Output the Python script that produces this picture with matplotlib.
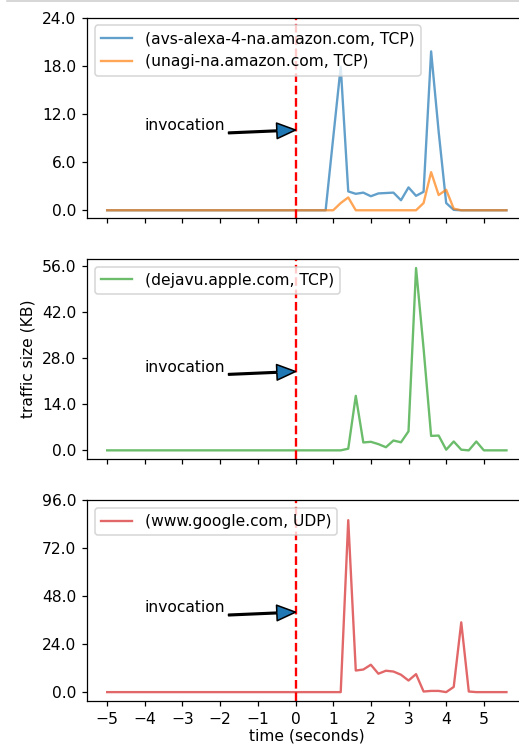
import numpy as np
import matplotlib
matplotlib.use('Agg')
import matplotlib.pyplot as plt
from matplotlib.ticker import FormatStrFormatter
from matplotlib.lines import Line2D

# one sample every 0.2 s, from -5 s to 5.6 s
t = np.round(np.arange(-5.0, 5.7, 0.2), 1)

alexa = [0, 0, 0, 0, 0, 0, 0, 0, 0, 0,
         0, 0, 0, 0, 0, 0, 0, 0, 0, 0,
         0, 0, 0, 0, 0, 0, 0, 0, 0, 0,
         9.0, 17.9, 2.35, 2.05, 2.2, 1.75, 2.1, 2.15, 2.2, 1.25,
         2.85, 1.8, 2.3, 19.8, 9.8, 0.9, 0.05, 0, 0, 0,
         0, 0, 0, 0]
unagi = [0, 0, 0, 0, 0, 0, 0, 0, 0, 0,
         0, 0, 0, 0, 0, 0, 0, 0, 0, 0,
         0, 0, 0, 0, 0, 0, 0, 0, 0, 0,
         0, 0.9, 1.6, 0, 0, 0, 0, 0, 0, 0,
         0, 0, 0.9, 4.75, 1.9, 2.55, 0.2, 0, 0, 0,
         0, 0, 0, 0]
dejavu = [0, 0, 0, 0, 0, 0, 0, 0, 0, 0,
          0, 0, 0, 0, 0, 0, 0, 0, 0, 0,
          0, 0, 0, 0, 0, 0, 0, 0, 0, 0,
          0, 0, 0.5, 16.6, 2.4, 2.6, 1.9, 0.95, 3.0, 2.45,
          5.8, 55.5, 31.0, 4.4, 4.5, 0.2, 2.7, 0.2, 0, 2.7,
          0, 0, 0, 0]
google = [0, 0, 0, 0, 0, 0, 0, 0, 0, 0,
          0, 0, 0, 0, 0, 0, 0, 0, 0, 0,
          0, 0, 0, 0, 0, 0, 0, 0, 0, 0,
          0, 0, 86.0, 10.8, 11.3, 13.7, 9.2, 10.7, 10.3, 8.7,
          5.8, 9.0, 0.3, 0.6, 0.6, 0.0, 2.6, 34.9, 0.3, 0,
          0, 0, 0, 0]

panels = [
    [(alexa, '(avs-alexa-4-na.amazon.com, TCP)', 'C0'),
     (unagi, '(unagi-na.amazon.com, TCP)', 'C1')],
    [(dejavu, '(dejavu.apple.com, TCP)', 'C2')],
    [(google, '(www.google.com, UDP)', 'C3')],
]
ytop = [24, 56, 96]
arrow_y = [10, 24, 40]

fig, axes = plt.subplots(3, 1, sharex=True, figsize=(519 / 112, 746 / 112), dpi=112)
fig.subplots_adjust(left=0.168, right=1.0143, top=0.9763, bottom=0.0607, hspace=0.203)

for ax, series, top, ya in zip(axes, panels, ytop, arrow_y):
    for vals, label, c in series:
        ax.plot(t, vals, color=c, alpha=0.7, label=label)
    ax.axvline(0, color='r', linestyle='--')
    ax.annotate('invocation', xy=(0, ya), xytext=(-4, ya),
                arrowprops=dict(facecolor='C0', width=1, headwidth=10, headlength=12))
    ax.set_yticks(np.linspace(0, top, 5))
    ax.yaxis.set_major_formatter(FormatStrFormatter('%.1f'))
    ax.legend(loc='upper left')

axes[-1].set_xticks(range(-5, 6))
axes[1].set_ylabel('traffic size (KB)')
axes[-1].set_xlabel('time (seconds)', labelpad=1.5)

fig.add_artist(Line2D([0.013, 1], [0.999, 0.999], color='#cccccc', lw=1))

fig.savefig('out.png', dpi=112)
